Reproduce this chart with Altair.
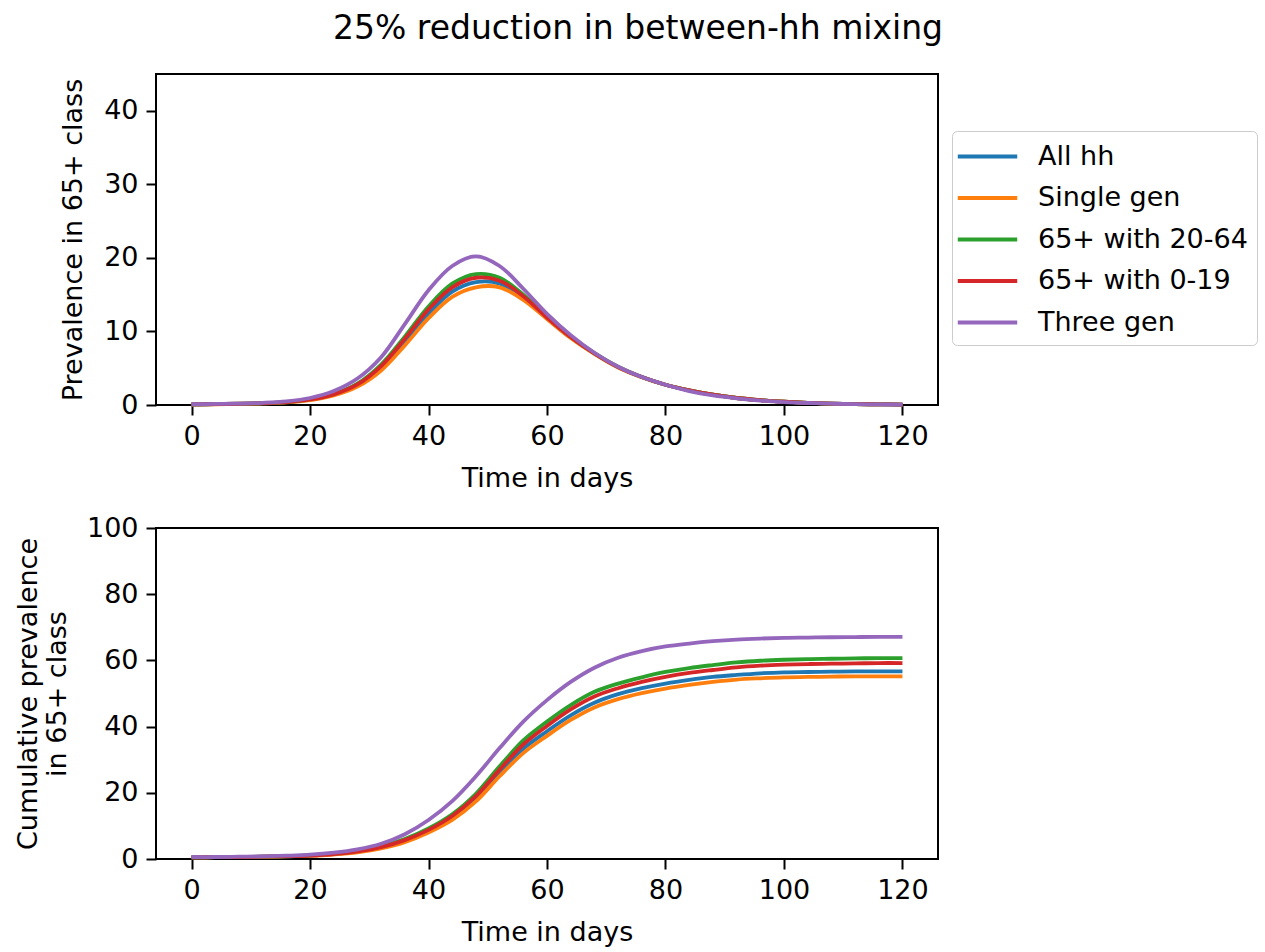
import altair as alt
import pandas as pd

days = list(range(0, 121, 4))
series = ["All hh", "Single gen", "65+ with 20-64", "65+ with 0-19", "Three gen"]
colors = ["#1f77b4", "#ff7f0e", "#2ca02c", "#d62728", "#9467bd"]

# Prevalence in 65+ class (top panel), one value every 4 days from day 0 to 120
prev_all_hh = [0.07, 0.11, 0.16, 0.24, 0.38, 0.72, 1.4, 2.7, 5.0, 8.6, 12.4, 15.4, 16.7, 16.5, 14.5,
               11.8, 9.2, 7.0, 5.15, 3.8, 2.75, 2.0, 1.4, 0.95, 0.65, 0.45, 0.3, 0.2, 0.13, 0.09, 0.06]
prev_single = [0.07, 0.1, 0.15, 0.22, 0.35, 0.65, 1.3, 2.5, 4.7, 8.1, 11.8, 14.7, 16.0, 16.0, 14.3,
               11.7, 9.1, 6.95, 5.1, 3.78, 2.75, 2.0, 1.4, 0.95, 0.65, 0.45, 0.3, 0.2, 0.13, 0.09, 0.06]
prev_2064 = [0.08, 0.12, 0.17, 0.25, 0.4, 0.8, 1.5, 2.9, 5.5, 9.3, 13.4, 16.5, 17.8, 17.3, 15.0,
             12.0, 9.3, 7.05, 5.2, 3.8, 2.75, 2.0, 1.4, 0.95, 0.65, 0.45, 0.3, 0.2, 0.13, 0.09, 0.06]
prev_019 = [0.08, 0.12, 0.17, 0.25, 0.4, 0.75, 1.45, 2.8, 5.3, 9.0, 13.0, 16.0, 17.3, 16.9, 14.8,
            11.9, 9.25, 7.0, 5.15, 3.8, 2.75, 2.0, 1.4, 0.95, 0.65, 0.45, 0.3, 0.2, 0.13, 0.09, 0.06]
prev_three = [0.1, 0.15, 0.2, 0.3, 0.5, 0.95, 1.9, 3.6, 6.5, 11.0, 15.6, 18.9, 20.2, 18.9, 15.8,
              12.4, 9.5, 7.1, 5.2, 3.8, 2.75, 1.9, 1.3, 0.9, 0.6, 0.4, 0.27, 0.18, 0.12, 0.08, 0.05]

# Cumulative prevalence in 65+ class (bottom panel)
cum_all_hh = [0.5, 0.55, 0.6, 0.7, 0.8, 1.0, 1.45, 2.2, 3.4, 5.4, 8.4, 12.4, 18.2, 26.0, 33.3,
              38.6, 43.4, 47.2, 49.8, 51.6, 53.0, 54.1, 55.0, 55.6, 56.1, 56.4, 56.5, 56.6, 56.7, 56.7, 56.7]
cum_single = [0.5, 0.55, 0.6, 0.65, 0.8, 0.95, 1.35, 2.0, 3.2, 5.1, 8.0, 11.8, 17.4, 25.0, 32.0,
              37.2, 42.0, 45.8, 48.3, 50.1, 51.5, 52.6, 53.5, 54.2, 54.6, 54.9, 55.0, 55.1, 55.2, 55.2, 55.2]
cum_2064 = [0.5, 0.55, 0.6, 0.7, 0.85, 1.1, 1.6, 2.4, 3.8, 6.0, 9.2, 13.5, 19.7, 28.0, 35.8,
            41.5, 46.5, 50.5, 53.0, 54.9, 56.5, 57.7, 58.6, 59.4, 59.9, 60.2, 60.4, 60.5, 60.6, 60.7, 60.7]
cum_019 = [0.5, 0.55, 0.6, 0.7, 0.85, 1.05, 1.5, 2.3, 3.6, 5.7, 8.8, 13.0, 19.0, 27.0, 34.6,
           40.2, 45.2, 49.1, 51.6, 53.5, 55.0, 56.2, 57.1, 57.9, 58.4, 58.7, 58.9, 59.0, 59.1, 59.2, 59.2]
cum_three = [0.6, 0.6, 0.7, 0.8, 1.0, 1.3, 1.9, 2.9, 4.6, 7.5, 11.8, 17.5, 25.0, 33.5, 41.5,
             48.0, 53.5, 57.8, 60.8, 62.8, 64.2, 65.1, 65.8, 66.3, 66.6, 66.8, 66.9, 67.0, 67.05, 67.1, 67.1]

x_ticks = [0, 20, 40, 60, 80, 100, 120]
top_ticks = [0, 10, 20, 30, 40]
bottom_ticks = [0, 20, 40, 60, 80, 100]


def frame(values_by_series):
    rows = []
    for name, vals in zip(series, values_by_series):
        for d, v in zip(days, vals):
            rows.append({"series": name, "day": d, "value": v})
    return pd.DataFrame(rows)


top_df = frame([prev_all_hh, prev_single, prev_2064, prev_019, prev_three])
bottom_df = frame([cum_all_hh, cum_single, cum_2064, cum_019, cum_three])

FONT = "DejaVu Sans"
FS = 27


def panel(df, ytitle, ydomain, yticks, legend, ypad):
    return alt.Chart(df).mark_line(strokeWidth=3.8, interpolate="catmull-rom").encode(
        x=alt.X("day:Q",
                scale=alt.Scale(domain=[-6, 126], nice=False, zero=False),
                axis=alt.Axis(values=x_ticks, title="Time in days", format="d", titlePadding=16)),
        y=alt.Y("value:Q",
                scale=alt.Scale(domain=ydomain, nice=False, zero=False),
                axis=alt.Axis(values=yticks, title=ytitle, format="d", titlePadding=ypad)),
        color=alt.Color("series:N",
                        scale=alt.Scale(domain=series, range=colors),
                        sort=series,
                        legend=legend),
    ).properties(width=782, height=331)


legend = alt.Legend(
    title=None, orient="none", legendX=796, legendY=57,
    symbolType="M-2.05,0H2.05", symbolSize=841, symbolStrokeWidth=4,
    symbolOffset=10, symbolFillColor="transparent",
    labelFontSize=FS, labelFont=FONT, labelColor="black", labelOffset=34, labelLimit=500,
    strokeColor="#cccccc", fillColor="white", padding=9, cornerRadius=5,
    rowPadding=11.5,
)

top = panel(top_df, "Prevalence in 65+ class", [0, 45], top_ticks, legend, 16)
bottom = panel(bottom_df, ["Cumulative prevalence", "in 65+ class"], [0, 100], bottom_ticks, None, 15)

chart = alt.vconcat(top, bottom, spacing=21).resolve_scale(color="independent").resolve_legend(
    color="independent"
).properties(
    title=alt.TitleParams("25% reduction in between-hh mixing", fontSize=33, font=FONT,
                          fontWeight="normal", color="black", anchor="middle", offset=27, dx=2),
    padding={"left": 13, "top": 13, "right": 2, "bottom": 5},
).configure_view(
    stroke="black", strokeWidth=2
).configure_axis(
    domain=False, grid=False,
    tickColor="black", tickWidth=2, tickSize=10,
    labelFont=FONT, labelFontSize=FS, labelColor="black", labelPadding=8,
    titleFont=FONT, titleFontSize=FS, titleFontWeight="normal", titleColor="black",
)

chart.save("out.html", embed_options={"renderer": "svg", "actions": False})
